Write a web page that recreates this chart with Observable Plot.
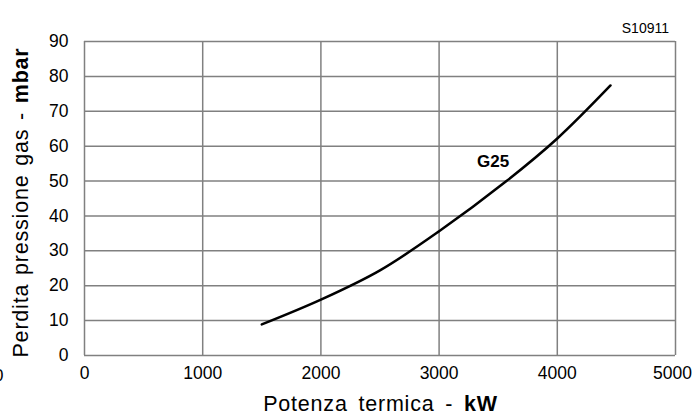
<!DOCTYPE html>
<html><head><meta charset="utf-8">
<script src="https://cdn.jsdelivr.net/npm/d3@7"></script>
<script src="https://cdn.jsdelivr.net/npm/@observablehq/plot@0.6"></script>
<style>
body{margin:0;background:#fff}
svg{font-family:"Liberation Sans",Arial,sans-serif}
</style>
</head><body><div id="chart"></div>
<script>
const power = [1500, 2000, 2500, 3000, 3570, 4000, 4450];
const pressure = [8.9, 16.0, 24.4, 35.6, 50, 62.2, 77.4];
const xTicks = [0, 1000, 2000, 3000, 4000, 5000];
const yTicks = [0, 10, 20, 30, 40, 50, 60, 70, 80, 90];
const seriesLabel = "G25";
const seriesLabelAt = {x: 3457, y: 55.6};
const xTitle = ["Potenza termica - ", "kW"];
const yTitle = ["Perdita pressione gas - ", "mbar"];
const code = "S10911";

const data = power.map((p, i) => ({p, d: pressure[i]}));

const W = 693, H = 417, mL = 84, mR = 18, mT = 41, mB = 62;
const axisOpts = {tickSize: 0, tickPadding: 11, tickFormat: "d", label: null, fontSize: 17.5};
const plot = Plot.plot({
  width: W, height: H,
  marginLeft: mL, marginRight: mR, marginTop: mT, marginBottom: mB,
  style: {fontFamily: '"Liberation Sans",Arial,sans-serif', fontSize: "17.5px", color: "#000", background: "#fff", overflow: "visible"},
  x: {domain: [0, 5000], axis: null},
  y: {domain: [0, 90], ticks: yTicks, tickSize: 0, tickPadding: 16, tickFormat: "d", label: null},
  marks: [
    Plot.ruleX(xTicks, {stroke: "#808080", strokeWidth: 1.5}),
    Plot.ruleY(yTicks, {stroke: "#808080", strokeWidth: 1.5}),
    Plot.axisX(xTicks.slice(0, -1), axisOpts),
    Plot.axisX(xTicks.slice(-1), {...axisOpts, dx: -3}),
    Plot.line(data, {x: "p", y: "d", stroke: "#000", strokeWidth: 2.5, curve: "catmull-rom"}),
    Plot.text([seriesLabelAt], {x: "x", y: "y", text: () => seriesLabel, fontWeight: "bold", fontSize: 17, fill: "#000"})
  ]
});
document.getElementById("chart").appendChild(plot);

const svg = d3.select(plot);
// x title
const xt = svg.append("text").attr("x", 380.5).attr("y", 411)
  .attr("text-anchor", "middle").attr("font-size", 21.5)
  .attr("letter-spacing", "0.8px").attr("word-spacing", "4px").attr("fill", "#000");
xt.append("tspan").text(xTitle[0]);
xt.append("tspan").attr("font-weight", "bold").text(xTitle[1]);
// y title
const yt = svg.append("text").attr("transform", `translate(27.5,202.5) rotate(-90)`)
  .attr("text-anchor", "middle").attr("font-size", 21.5)
  .attr("letter-spacing", "0.8px").attr("word-spacing", "2px").attr("fill", "#000");
yt.append("tspan").text(yTitle[0]);
yt.append("tspan").attr("font-weight", "bold").text(yTitle[1]);
// code
svg.append("text").attr("x", 669).attr("y", 33).attr("text-anchor", "end")
  .attr("font-size", 14).attr("fill", "#000").text(code);
// cropped digit at left edge
svg.append("text").attr("x", 3.5).attr("y", 381).attr("text-anchor", "end")
  .attr("font-size", 17).attr("fill", "#000").text("0");
</script>
</body></html>
